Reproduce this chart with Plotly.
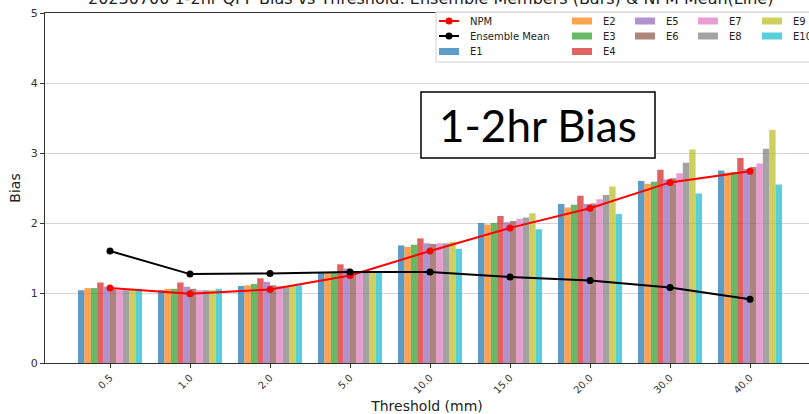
import plotly.graph_objects as go

# Precipitation thresholds (mm) on the x axis
thresholds = ["0.5", "1.0", "2.0", "5.0", "10.0", "15.0", "20.0", "30.0", "40.0"]

# Bias of each ensemble member per threshold
E1 = [1.04, 1.04, 1.10, 1.30, 1.68, 2.00, 2.27, 2.60, 2.75]
E2 = [1.07, 1.06, 1.11, 1.30, 1.66, 1.98, 2.22, 2.56, 2.72]
E3 = [1.07, 1.06, 1.13, 1.30, 1.69, 2.00, 2.26, 2.59, 2.73]
E4 = [1.15, 1.15, 1.21, 1.41, 1.78, 2.10, 2.39, 2.76, 2.93]
E5 = [1.09, 1.09, 1.16, 1.35, 1.71, 2.01, 2.27, 2.62, 2.77]
E6 = [1.05, 1.06, 1.11, 1.30, 1.70, 2.03, 2.28, 2.64, 2.80]
E7 = [1.04, 1.04, 1.10, 1.30, 1.71, 2.06, 2.34, 2.71, 2.85]
E8 = [1.04, 1.04, 1.10, 1.30, 1.71, 2.08, 2.40, 2.86, 3.06]
E9 = [1.05, 1.04, 1.10, 1.30, 1.73, 2.14, 2.52, 3.05, 3.33]
E10 = [1.06, 1.06, 1.11, 1.30, 1.63, 1.91, 2.13, 2.42, 2.55]

# Neighbourhood probability matched mean and plain ensemble mean
npm = [1.07, 0.99, 1.05, 1.25, 1.60, 1.93, 2.21, 2.58, 2.74]
ens_mean = [1.60, 1.27, 1.28, 1.30, 1.30, 1.23, 1.18, 1.08, 0.91]

member_names = ["E1", "E2", "E3", "E4", "E5", "E6", "E7", "E8", "E9", "E10"]
member_values = [E1, E2, E3, E4, E5, E6, E7, E8, E9, E10]
member_colors = ["#1f77b4", "#ff7f0e", "#2ca02c", "#d62728", "#9467bd",
                 "#8c564b", "#e377c2", "#7f7f7f", "#bcbd22", "#17becf"]
BAR_ALPHA = 0.72

title_text = ("20230700 1-2hr QPF Bias vs Threshold: "
              "Ensemble Members (Bars) & NPM Mean(Line)")

# Figure / plot-area geometry in pixels
W, H = 809, 414
L, R, T, B = 45, 809, 13, 363


def px(x):
    return (x - L) / (R - L)


def py(y):
    return (B - y) / (B - T)


fig = go.Figure()

for name, vals, col in zip(member_names, member_values, member_colors):
    fig.add_trace(go.Bar(x=thresholds, y=vals, name=name, marker_color=col,
                         marker_line_width=0, opacity=BAR_ALPHA,
                         showlegend=False))

fig.add_trace(go.Scatter(x=thresholds, y=npm, name="NPM", mode="lines+markers",
                         line=dict(color="#ff0000", width=2),
                         marker=dict(size=7, color="#ff0000"), showlegend=False))
fig.add_trace(go.Scatter(x=thresholds, y=ens_mean, name="Ensemble Mean",
                         mode="lines+markers",
                         line=dict(color="#000000", width=2),
                         marker=dict(size=7, color="#000000"), showlegend=False))

shapes = []
annotations = []

# Legend box (five columns, column-major order)
shapes.append(dict(type="rect", xref="paper", yref="paper",
                   x0=px(436), x1=px(830), y0=py(62), y1=py(12),
                   fillcolor="rgba(255,255,255,0.85)",
                   line=dict(color="#d0d0d0", width=1), layer="above"))

legend_cols = [
    (439, [("NPM", "line", "#ff0000"), ("Ensemble Mean", "line", "#000000"),
           ("E1", "bar", member_colors[0])]),
    (572, [("E2", "bar", member_colors[1]), ("E3", "bar", member_colors[2]),
           ("E4", "bar", member_colors[3])]),
    (635, [("E5", "bar", member_colors[4]), ("E6", "bar", member_colors[5])]),
    (698, [("E7", "bar", member_colors[6]), ("E8", "bar", member_colors[7])]),
    (762, [("E9", "bar", member_colors[8]), ("E10", "bar", member_colors[9])]),
]
row_y = [21, 36, 51.5]
HANDLE = 20
for x0, entries in legend_cols:
    for (label, kind, col), yc in zip(entries, row_y):
        if kind == "line":
            shapes.append(dict(type="line", xref="paper", yref="paper",
                               x0=px(x0), x1=px(x0 + HANDLE), y0=py(yc), y1=py(yc),
                               line=dict(color=col, width=2), layer="above"))
            cx = x0 + HANDLE / 2
            shapes.append(dict(type="circle", xref="paper", yref="paper",
                               x0=px(cx - 3.5), x1=px(cx + 3.5),
                               y0=py(yc + 3.5), y1=py(yc - 3.5),
                               fillcolor=col, line=dict(color=col, width=0),
                               layer="above"))
        else:
            shapes.append(dict(type="rect", xref="paper", yref="paper",
                               x0=px(x0), x1=px(x0 + HANDLE),
                               y0=py(yc + 3.5), y1=py(yc - 3.5),
                               fillcolor=col, opacity=BAR_ALPHA,
                               line=dict(width=0), layer="above"))
        annotations.append(dict(text=label, xref="paper", yref="paper",
                                x=px(x0 + HANDLE + 9), y=py(yc),
                                xanchor="left", yanchor="middle", showarrow=False,
                                font=dict(size=10, color="#222222",
                                          family="DejaVu Sans")))

# Highlighted caption box
shapes.append(dict(type="rect", xref="paper", yref="paper",
                   x0=px(421), x1=px(655), y0=py(158), y1=py(92),
                   fillcolor="#ffffff", line=dict(color="#000000", width=1.5),
                   layer="above"))
annotations.append(dict(text="1-2hr Bias", xref="paper", yref="paper",
                        x=px(538), y=py(125), xanchor="center", yanchor="middle",
                        showarrow=False,
                        font=dict(size=44, color="#000000", family="Lato")))

# Title (partly above the visible page)
annotations.append(dict(text=title_text, xref="paper", yref="paper",
                        x=px(431), y=py(10), xanchor="center", yanchor="bottom",
                        showarrow=False,
                        font=dict(size=16, color="#222222", family="DejaVu Sans")))

fig.update_layout(
    width=W, height=H,
    margin=dict(l=L, r=W - R, t=T, b=H - B),
    paper_bgcolor="#ffffff", plot_bgcolor="#ffffff",
    barmode="group", bargap=0.2, bargroupgap=0,
    showlegend=False,
    shapes=shapes, annotations=annotations,
    font=dict(family="DejaVu Sans", color="#333333"),
    xaxis=dict(type="category", range=[-0.8125, 8.7375],
               showline=True, linecolor="#333333", linewidth=1, mirror=True,
               ticks="outside", ticklen=4, tickcolor="#333333",
               tickangle=-45, tickfont=dict(size=10, color="#333333"),
               showgrid=False,
               title=dict(text="Threshold (mm)", standoff=6,
                          font=dict(size=14, color="#222222"))),
    yaxis=dict(range=[0, 5], dtick=1, tick0=0,
               showline=True, linecolor="#333333", linewidth=1,
               ticks="outside", ticklen=4, tickcolor="#333333",
               tickfont=dict(size=11, color="#333333"),
               showgrid=True, gridcolor="#d4d4d4", gridwidth=1,
               zeroline=False,
               title=dict(text="Bias", standoff=6,
                          font=dict(size=14, color="#222222"))),
)

fig.write_html("out.html")
